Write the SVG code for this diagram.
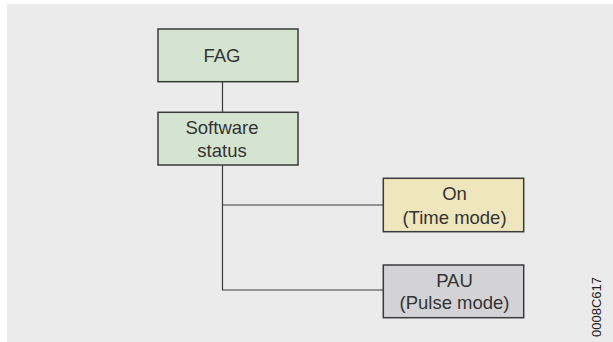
<svg xmlns="http://www.w3.org/2000/svg" width="613" height="342" viewBox="0 0 613 342">
<style>
.box{stroke:#3a3a3a;stroke-width:1.5}
.green{fill:#d5e3d1}
.yellow{fill:#efe6bd}
.grey{fill:#d3d3d5}
.lbl{font-family:"Liberation Sans",Arial,sans-serif;font-size:18.5px;fill:#333;text-anchor:middle}
.conn{fill:none;stroke:#3a3a3a;stroke-width:1.2}
</style>
<rect x="0" y="0" width="613" height="342" fill="#ffffff"/>
<rect x="7" y="4" width="606" height="338" fill="#ebebeb"/>
<g id="connectors">
<line class="conn" x1="222.5" y1="81.7" x2="222.5" y2="112.3"/>
<polyline class="conn" points="222.5,165 222.5,290 383.3,290"/>
<line class="conn" x1="222.5" y1="205" x2="383.3" y2="205"/>
</g>
<g id="fag">
<rect class="box green" x="158" y="29" width="140" height="52.7"/>
<text class="lbl" x="222" y="62">FAG</text>
</g>
<g id="software-status">
<rect class="box green" x="158" y="112.3" width="140" height="52.7"/>
<text class="lbl" x="222" y="133.5">Software</text>
<text class="lbl" x="222" y="157">status</text>
</g>
<g id="on">
<rect class="box yellow" x="383.3" y="178.3" width="140.4" height="53.4"/>
<text class="lbl" x="454.5" y="200">On</text>
<text class="lbl" x="454.5" y="223.5">(Time mode)</text>
</g>
<g id="pau">
<rect class="box grey" x="383.3" y="265" width="140.4" height="52.7"/>
<text class="lbl" x="454.5" y="286.5">PAU</text>
<text class="lbl" x="454.5" y="309">(Pulse mode)</text>
</g>
<text x="601" y="307" transform="rotate(-90 601 307)" font-family="Liberation Sans,Arial,sans-serif" font-size="13" fill="#222" text-anchor="middle">0008C617</text>
</svg>
